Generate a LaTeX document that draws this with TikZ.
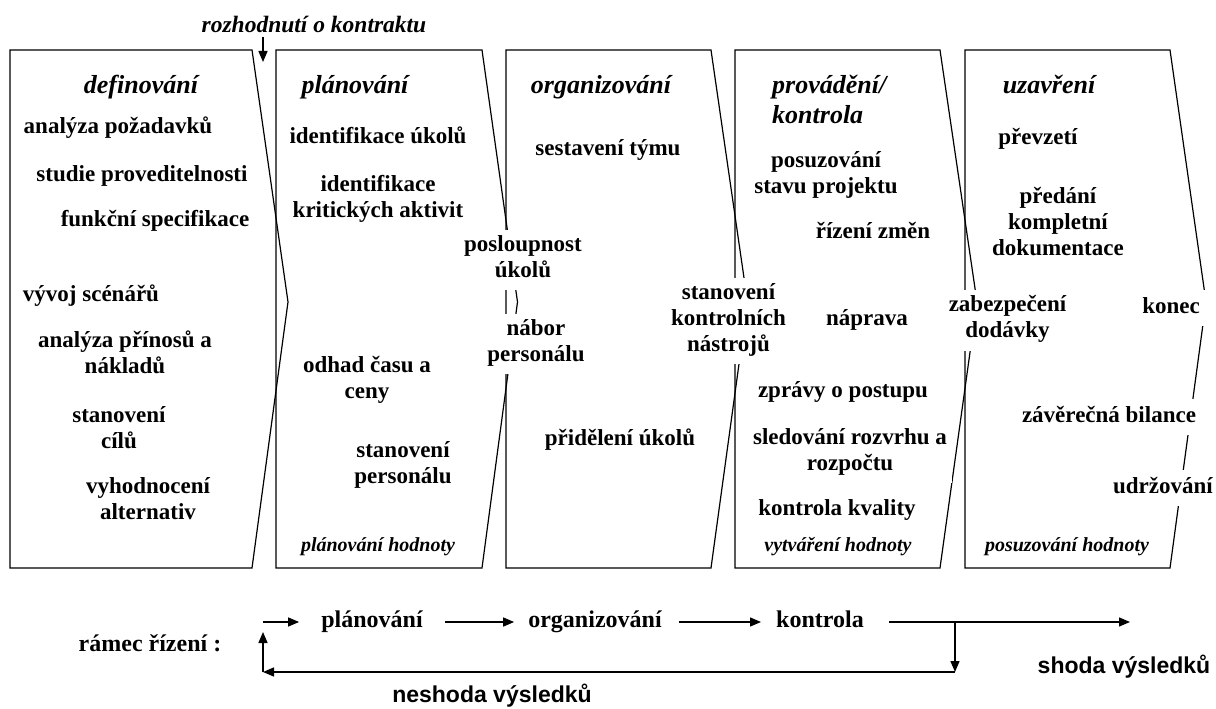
\documentclass[tikz,border=0pt]{standalone}
\usepackage{fontspec}
\setmainfont{Liberation Serif}
\newfontfamily\arialfont{Liberation Sans}
\usetikzlibrary{arrows.meta}

\tikzset{
  phasebox/.style={draw=black, line width=1.2pt, line join=miter},
  item/.style={font=\fontsize{23}{26}\selectfont\bfseries, align=center, fill=white,
    inner xsep=5pt, inner ysep=5pt, execute at begin node=\strut, execute at end node=\strut},
  head/.style={font=\fontsize{26}{30}\selectfont\bfseries\itshape, align=center, inner sep=5pt,
    execute at begin node=\strut, execute at end node=\strut},
  foot/.style={font=\fontsize{20}{24}\selectfont\bfseries\itshape, inner sep=3pt,
    execute at begin node=\strut},
  flow/.style={font=\fontsize{24}{28}\selectfont\bfseries, inner sep=5pt,
    execute at begin node=\strut},
  result/.style={font=\arialfont\fontsize{23}{27}\selectfont\bfseries, inner sep=3pt,
    execute at begin node=\strut},
  arr/.style={line width=1.4pt, -{Triangle[length=11pt,width=9pt]}},
}

\begin{document}
\begin{tikzpicture}[x=1pt,y=-1pt]
\useasboundingbox (0,0) rectangle (1216,709);

% phase outlines
\draw[phasebox] (10,50) -- (252,50) -- (288,302) -- (252,568) -- (10,568) -- cycle;
\draw[phasebox] (276,50) -- (482,50) -- (517.5,302) -- (482,568) -- (276,568) -- cycle;
\draw[phasebox] (506,50) -- (711,50) -- (747.5,302) -- (711,568) -- (506,568) -- cycle;
\draw[phasebox] (735,50) -- (940,50) -- (977,302) -- (940,568) -- (735,568) -- cycle;
\draw[phasebox] (965,50) -- (1170,50) -- (1206,302) -- (1170,568) -- (965,568) -- cycle;

% contract decision
\node[font=\fontsize{23.5}{27}\selectfont\bfseries\itshape, inner sep=2pt] (contract) at (314,24) {rozhodnutí o kontraktu};
\coordinate (cdTop) at (263,37);
\coordinate (cdTip) at (263,62);
\draw[arr] (cdTop) -- (cdTip);

% phase 1: definování
\node[head] (h1) at (141,87) {definování};
\node[item] (d1) at (118,128) {analýza požadavků};
\node[item] (d2) at (142,176) {studie proveditelnosti};
\node[item] (d3) at (155,221) {funkční specifikace};
\node[item] (d4) at (91,296) {vývoj scénářů};
\node[item] (d5) at (125,356) {analýza přínosů a\\nákladů};
\node[item] (d6) at (119,431) {stanovení\\cílů};
\node[item] (d7) at (148,502) {vyhodnocení\\alternativ};

% phase 2: plánování
\node[head] (h2) at (355,87) {plánování};
\node[item] (p1) at (378,138) {identifikace úkolů};
\node[item] (p2) at (378,200) {identifikace\\kritických aktivit};
\node[item] (p3) at (523,260) {posloupnost\\úkolů};
\node[item] (p4) at (536,344) {nábor\\personálu};
\node[item] (p5) at (367,381) {odhad času a\\ceny};
\node[item] (p6) at (403,466) {stanovení\\personálu};
\node[foot] (f2) at (378,547) {plánování hodnoty};

% phase 3: organizování
\node[head] (h3) at (601,87) {organizování};
\node[item] (o1) at (608,150) {sestavení týmu};
\node[item] (o2) at (620,440) {přidělení úkolů};
\node[item] (o3) at (728.5,321) {stanovení\\kontrolních\\nástrojů};

% phase 4: provádění / kontrola
\node[head, align=left, anchor=west] (h4) at (767,104) {provádění/\\kontrola};
\node[item] (k1) at (826,176) {posuzování\\stavu projektu};
\node[item] (k2) at (873,233) {řízení změn};
\node[item] (k3) at (867,320) {náprava};
\node[item] (k4) at (843,392) {zprávy o postupu};
\node[item] (k5) at (850,453.5) {sledování rozvrhu a\\rozpočtu};
\node[item] (k6) at (837,510) {kontrola kvality};
\node[foot] (f4) at (838,547) {vytváření hodnoty};

% phase 5: uzavření
\node[head] (h5) at (1049,87) {uzavření};
\node[item] (u1) at (1038,139) {převzetí};
\node[item] (u2) at (1058,225) {předání\\kompletní\\dokumentace};
\node[item] (u3) at (1007.5,320.5) {zabezpečení\\dodávky};
\node[item, inner xsep=9pt] (u4) at (1171,308) {konec};
\node[item] (u5) at (1109,417) {závěrečná bilance};
\node[item] (u6) at (1163,488) {udržování};
\node[foot] (f5) at (1067,547) {posuzování hodnoty};

% management cycle
\node[flow] (frame) at (150,646) {rámec řízení :};
\node[flow] (bp) at (372,622) {plánování};
\node[flow] (bo) at (595,622) {organizování};
\node[flow] (bk) at (820,622) {kontrola};
\node[result] (ok) at (1124,668) {shoda výsledků};
\node[result] (nok) at (492,697) {neshoda výsledků};

\coordinate (loopTop) at (263,622);
\coordinate (loopTip) at (263,632);
\coordinate (loopBot) at (263,672);
\coordinate (split) at (955,622);
\coordinate (splitBot) at (955,672);
\coordinate (okTip) at (1130,622);

\draw[arr, shorten <=17pt, shorten >=9pt] (bp) -- (bo);
\draw[arr, shorten <=12pt, shorten >=10pt] (bo) -- (bk);
\draw[arr, shorten <=20pt] (bk) -- (okTip);
\draw[arr] (split) -- (splitBot);
\draw[arr] (splitBot) -- (loopBot);
\draw[arr] (loopBot) -- (loopTip);
\draw[arr, shorten >=17pt] (loopTop) -- (bp);
\end{tikzpicture}
\end{document}
